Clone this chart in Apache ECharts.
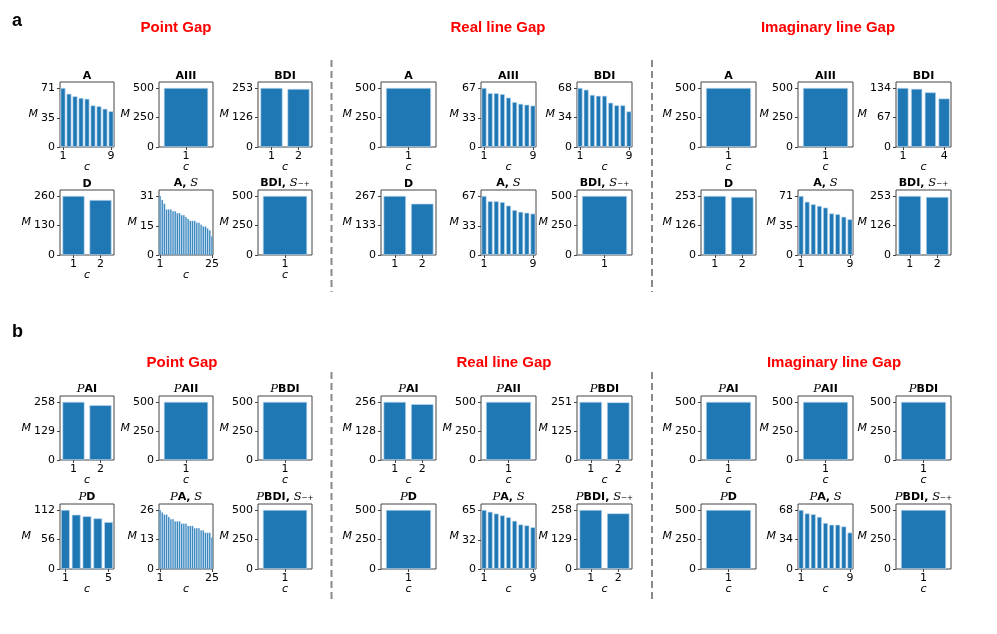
<!DOCTYPE html>
<html><head><meta charset="utf-8">
<script src="https://cdn.jsdelivr.net/npm/echarts@6/dist/echarts.min.js"></script>
<style>html,body{margin:0;padding:0;background:#fff}#c{width:997px;height:634px}</style>
</head><body><div id="c"></div>
<script>
// ---------- DATA ----------
const groupNames = ['Point Gap', 'Real line Gap', 'Imaginary line Gap'];
const aTitles = ['A', 'AIII', 'BDI', 'D', 'A, 𝒮', 'BDI, 𝒮₋₊'];
const bTitles = ['𝒫AI', '𝒫AII', '𝒫BDI', '𝒫D', '𝒫A, 𝒮', '𝒫BDI, 𝒮₋₊'];

// panel a, Point Gap
const aPoint_A    = [71, 64, 61, 59, 58, 50, 49, 46, 43];
const aPoint_AIII = [500];
const aPoint_BDI  = [253, 249];
const aPoint_D    = [260, 242];
const aPoint_AS   = [31, 29, 27, 24, 24, 24, 23, 23, 22, 22, 21, 21, 20, 19, 18, 18, 18, 17, 17, 16, 15, 15, 14, 13, 10];
const aPoint_BDIS = [500];
const aPoint_top  = [71, 500, 253, 260, 31, 500];
// panel a, Real line Gap
const aReal_A    = [500];
const aReal_AIII = [67, 61, 61, 60, 56, 51, 49, 48, 47];
const aReal_BDI  = [68, 66, 60, 59, 59, 51, 48, 48, 41];
const aReal_D    = [267, 232];
const aReal_AS   = [67, 61, 61, 60, 56, 51, 49, 48, 47];
const aReal_BDIS = [500];
const aReal_top  = [500, 67, 68, 267, 67, 500];
// panel a, Imaginary line Gap
const aImag_A    = [500];
const aImag_AIII = [500];
const aImag_BDI  = [134, 132, 124, 110];
const aImag_D    = [253, 249];
const aImag_AS   = [71, 64, 61, 59, 57, 50, 49, 46, 43];
const aImag_BDIS = [253, 249];
const aImag_top  = [500, 500, 134, 253, 71, 253];
// panel b, Point Gap
const bPoint_PAI   = [258, 243];
const bPoint_PAII  = [500];
const bPoint_PBDI  = [500];
const bPoint_PD    = [112, 103, 100, 96, 89];
const bPoint_PAS   = [26, 25, 24, 24, 23, 22, 22, 21, 21, 21, 20, 20, 20, 19, 19, 19, 18, 18, 18, 17, 17, 16, 16, 16, 14];
const bPoint_PBDIS = [500];
const bPoint_top   = [258, 500, 500, 112, 26, 500];
// panel b, Real line Gap
const bReal_PAI   = [256, 246];
const bReal_PAII  = [500];
const bReal_PBDI  = [251, 249];
const bReal_PD    = [500];
const bReal_PAS   = [65, 63, 61, 59, 57, 53, 49, 48, 46];
const bReal_PBDIS = [258, 243];
const bReal_top   = [256, 500, 251, 500, 65, 258];
// panel b, Imaginary line Gap
const bImag_PAI   = [500];
const bImag_PAII  = [500];
const bImag_PBDI  = [500];
const bImag_PD    = [500];
const bImag_PAS   = [68, 64, 63, 60, 53, 51, 51, 49, 42];
const bImag_PBDIS = [500];
const bImag_top   = [500, 500, 500, 500, 68, 500];

const sections = [
  { letter: 'a', titles: aTitles, groups: [
    { values: [aPoint_A, aPoint_AIII, aPoint_BDI, aPoint_D, aPoint_AS, aPoint_BDIS], top: aPoint_top, showC: [1,1,1,1,1,1] },
    { values: [aReal_A, aReal_AIII, aReal_BDI, aReal_D, aReal_AS, aReal_BDIS], top: aReal_top, showC: [1,1,1,0,0,0] },
    { values: [aImag_A, aImag_AIII, aImag_BDI, aImag_D, aImag_AS, aImag_BDIS], top: aImag_top, showC: [1,1,1,0,0,0] }
  ]},
  { letter: 'b', titles: bTitles, groups: [
    { values: [bPoint_PAI, bPoint_PAII, bPoint_PBDI, bPoint_PD, bPoint_PAS, bPoint_PBDIS], top: bPoint_top, showC: [1,1,1,1,1,1] },
    { values: [bReal_PAI, bReal_PAII, bReal_PBDI, bReal_PD, bReal_PAS, bReal_PBDIS], top: bReal_top, showC: [1,1,1,1,1,1] },
    { values: [bImag_PAI, bImag_PAII, bImag_PBDI, bImag_PD, bImag_PAS, bImag_PBDIS], top: bImag_top, showC: [1,1,1,1,1,1] }
  ]}
];

// ---------- LAYOUT ----------
const colLefts = [[60, 159, 258], [381, 481, 577], [701, 798, 896]];
const boxW = [54, 55, 55];
const rowTops = [[82, 190], [396, 504]];
const rowH = [[65, 65], [64, 65]];
const headerX = [[176, 498, 828], [182, 504, 834]];
const headerY = [28, 363];
const letterY = [21, 332];
const sepX = [331.5, 652];
const sepY = [[60, 292], [372, 599]];

const FONT = 'DejaVu Sans';
const FS = 11;
function richTitle(t) {
  let out = '';
  for (const ch of t) {
    if (ch === '𝒮') out += '{s|S}';
    else if (ch === '𝒫') out += '{s|P}';
    else if (ch === '₋' || ch === '₊') out += '{sub|' + ch + '}';
    else out += '{b|' + ch + '}';
  }
  return out;
}
const richStyles = {
  b: { fontFamily: FONT, fontWeight: 'bold', fontSize: 11, fill: '#000', color: '#000' },
  s: { fontFamily: 'DejaVu Serif', fontStyle: 'italic', fontSize: 11.5, fill: '#000', color: '#000' },
  sub: { fontFamily: FONT, fontSize: 11.5, fill: '#000', color: '#000' }
};

const grids = [], xAxes = [], yAxes = [], series = [], graphics = [];
sections.forEach((sec, si) => {
  graphics.push({ type: 'text', x: 12, y: letterY[si], silent: true,
    style: { text: sec.letter, fontFamily: 'Liberation Sans', fontWeight: 'bold', fontSize: 18, fill: '#000',
      align: 'left', textAlign: 'left', verticalAlign: 'middle', textVerticalAlign: 'middle' } });
  sepX.forEach(x => graphics.push({ type: 'line', silent: true,
    shape: { x1: x, y1: sepY[si][0], x2: x, y2: sepY[si][1] },
    style: { stroke: '#8a8a8a', lineWidth: 2, lineDash: [7, 4] } }));
  sec.groups.forEach((grp, gi) => {
    graphics.push({ type: 'text', x: headerX[si][gi], y: headerY[si], silent: true,
      style: { text: groupNames[gi], fontFamily: 'Liberation Sans', fontWeight: 'bold', fontSize: 15, fill: '#ff0000',
        align: 'center', textAlign: 'center', verticalAlign: 'middle', textVerticalAlign: 'middle' } });
    grp.values.forEach((vals, k) => {
      const row = Math.floor(k / 3), col = k % 3;
      const left = colLefts[gi][col], top = rowTops[si][row], w = boxW[gi], h = rowH[si][row];
      const idx = grids.length;
      const tmax = grp.top[k], half = Math.floor(tmax / 2);
      const n = vals.length;
      const cats = vals.map((_, i) => String(i + 1));
      const showEnd = (i) => i === 0 || i === n - 1;
      grids.push({ left, top, width: w, height: h, show: true, borderColor: '#444', borderWidth: 1,
        backgroundColor: 'transparent', containLabel: false, outerBoundsMode: 'none' });
      xAxes.push({ type: 'category', gridIndex: idx, data: cats, boundaryGap: true,
        axisLine: { show: false },
        axisTick: { show: true, alignWithLabel: true, interval: showEnd, length: 3, lineStyle: { color: '#444', width: 1 } },
        axisLabel: { interval: showEnd, margin: 4, fontSize: FS, color: '#000', fontFamily: FONT },
        splitLine: { show: false },
        name: grp.showC[k] ? 'c' : '', nameLocation: 'middle', nameGap: 15, nameMoveOverlap: false,
        nameTextStyle: { fontStyle: 'italic', fontSize: FS, color: '#000', fontFamily: FONT } });
      yAxes.push({ type: 'value', gridIndex: idx, min: 0, max: tmax * 1.1,
        axisLine: { show: false }, splitLine: { show: false },
        axisTick: { show: true, length: 3, customValues: [0, half, tmax], lineStyle: { color: '#444', width: 1 } },
        axisLabel: { customValues: [0, half, tmax], margin: 5, fontSize: FS, color: '#000', fontFamily: FONT },
        name: 'M', nameLocation: 'middle', nameRotate: 0, nameMoveOverlap: false,
        nameGap: 8 + 7 * String(tmax).length,
        nameTextStyle: { fontStyle: 'italic', fontSize: FS, color: '#000', fontFamily: FONT } });
      series.push({ type: 'bar', xAxisIndex: idx, yAxisIndex: idx, data: vals, barWidth: '82%', silent: true,
        itemStyle: { color: '#1f77b4', borderColor: n > 10 ? 'rgba(170,205,232,0.9)' : 'rgba(190,218,240,0.95)', borderWidth: n > 10 ? 0.4 : 0.7 } });
      graphics.push({ type: 'text', x: left + w / 2, y: top - 0.5, silent: true,
        style: { text: richTitle(sec.titles[k]), rich: richStyles, fontFamily: FONT, fontWeight: 'bold', fontSize: 11, fill: '#000',
          align: 'center', textAlign: 'center', verticalAlign: 'bottom', textVerticalAlign: 'bottom' } });
    });
  });
});

const chart = echarts.init(document.getElementById('c'), null, { renderer: 'canvas', width: 997, height: 634 });
chart.setOption({
  backgroundColor: '#ffffff',
  animation: false,
  grid: grids, xAxis: xAxes, yAxis: yAxes, series,
  graphic: { elements: graphics }
});
</script>
</body></html>
